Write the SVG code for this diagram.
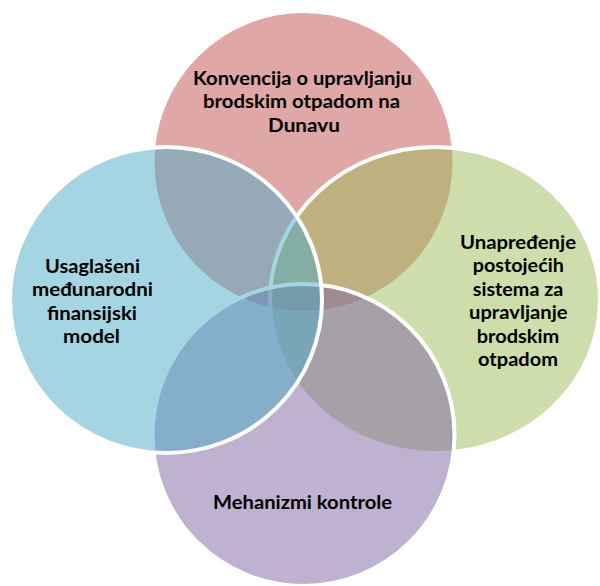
<svg xmlns="http://www.w3.org/2000/svg" width="600" height="586" viewBox="0 0 600 586">
<style>
.c{fill-opacity:0.5;stroke:#FFFFFF;stroke-width:4}
.t{font-family:Lato,"Noto Sans","Liberation Sans",sans-serif;font-weight:bold;font-size:18.7px;fill:#000000;text-anchor:middle}
</style>
<rect width="600" height="586" fill="#FFFFFF"/>
<g id="node-top">
<ellipse class="c" cx="303.5" cy="162" rx="151" ry="151" fill="#C0504D"/>
<text class="t" x="302.5" y="84.5" textLength="219" lengthAdjust="spacingAndGlyphs">Konvencija o upravljanju</text>
<text class="t" x="301.5" y="108" textLength="197" lengthAdjust="spacingAndGlyphs">brodskim otpadom na</text>
<text class="t" x="304" y="131.5" textLength="72" lengthAdjust="spacingAndGlyphs">Dunavu</text>
</g>
<g id="node-right">
<ellipse class="c" cx="435" cy="300" rx="165" ry="153" fill="#9BBB59"/>
<text class="t" x="518" y="248.5" textLength="116" lengthAdjust="spacingAndGlyphs">Unapređenje</text>
<text class="t" x="518.3" y="272" textLength="91" lengthAdjust="spacingAndGlyphs">postojećih</text>
<text class="t" x="518" y="295.5" textLength="90.5" lengthAdjust="spacingAndGlyphs">sistema za</text>
<text class="t" x="518.3" y="319" textLength="98.5" lengthAdjust="spacingAndGlyphs">upravljanje</text>
<text class="t" x="518" y="342.5" textLength="82.5" lengthAdjust="spacingAndGlyphs">brodskim</text>
<text class="t" x="518" y="366" textLength="80" lengthAdjust="spacingAndGlyphs">otpadom</text>
</g>
<g id="node-bottom">
<ellipse class="c" cx="303.5" cy="435" rx="151" ry="151" fill="#8064A2"/>
<text class="t" x="302.5" y="509" textLength="179" lengthAdjust="spacingAndGlyphs">Mehanizmi kontrole</text>
</g>
<g id="node-left">
<ellipse class="c" cx="166" cy="300" rx="156" ry="153" fill="#4BACC6"/>
<text class="t" x="92.5" y="272.5" textLength="95" lengthAdjust="spacingAndGlyphs">Usaglašeni</text>
<text class="t" x="92.5" y="296" textLength="121" lengthAdjust="spacingAndGlyphs">međunarodni</text>
<text class="t" x="92" y="319.5" textLength="90" lengthAdjust="spacingAndGlyphs">finansijski</text>
<text class="t" x="91.5" y="343" textLength="57" lengthAdjust="spacingAndGlyphs">model</text>
</g>
</svg>
